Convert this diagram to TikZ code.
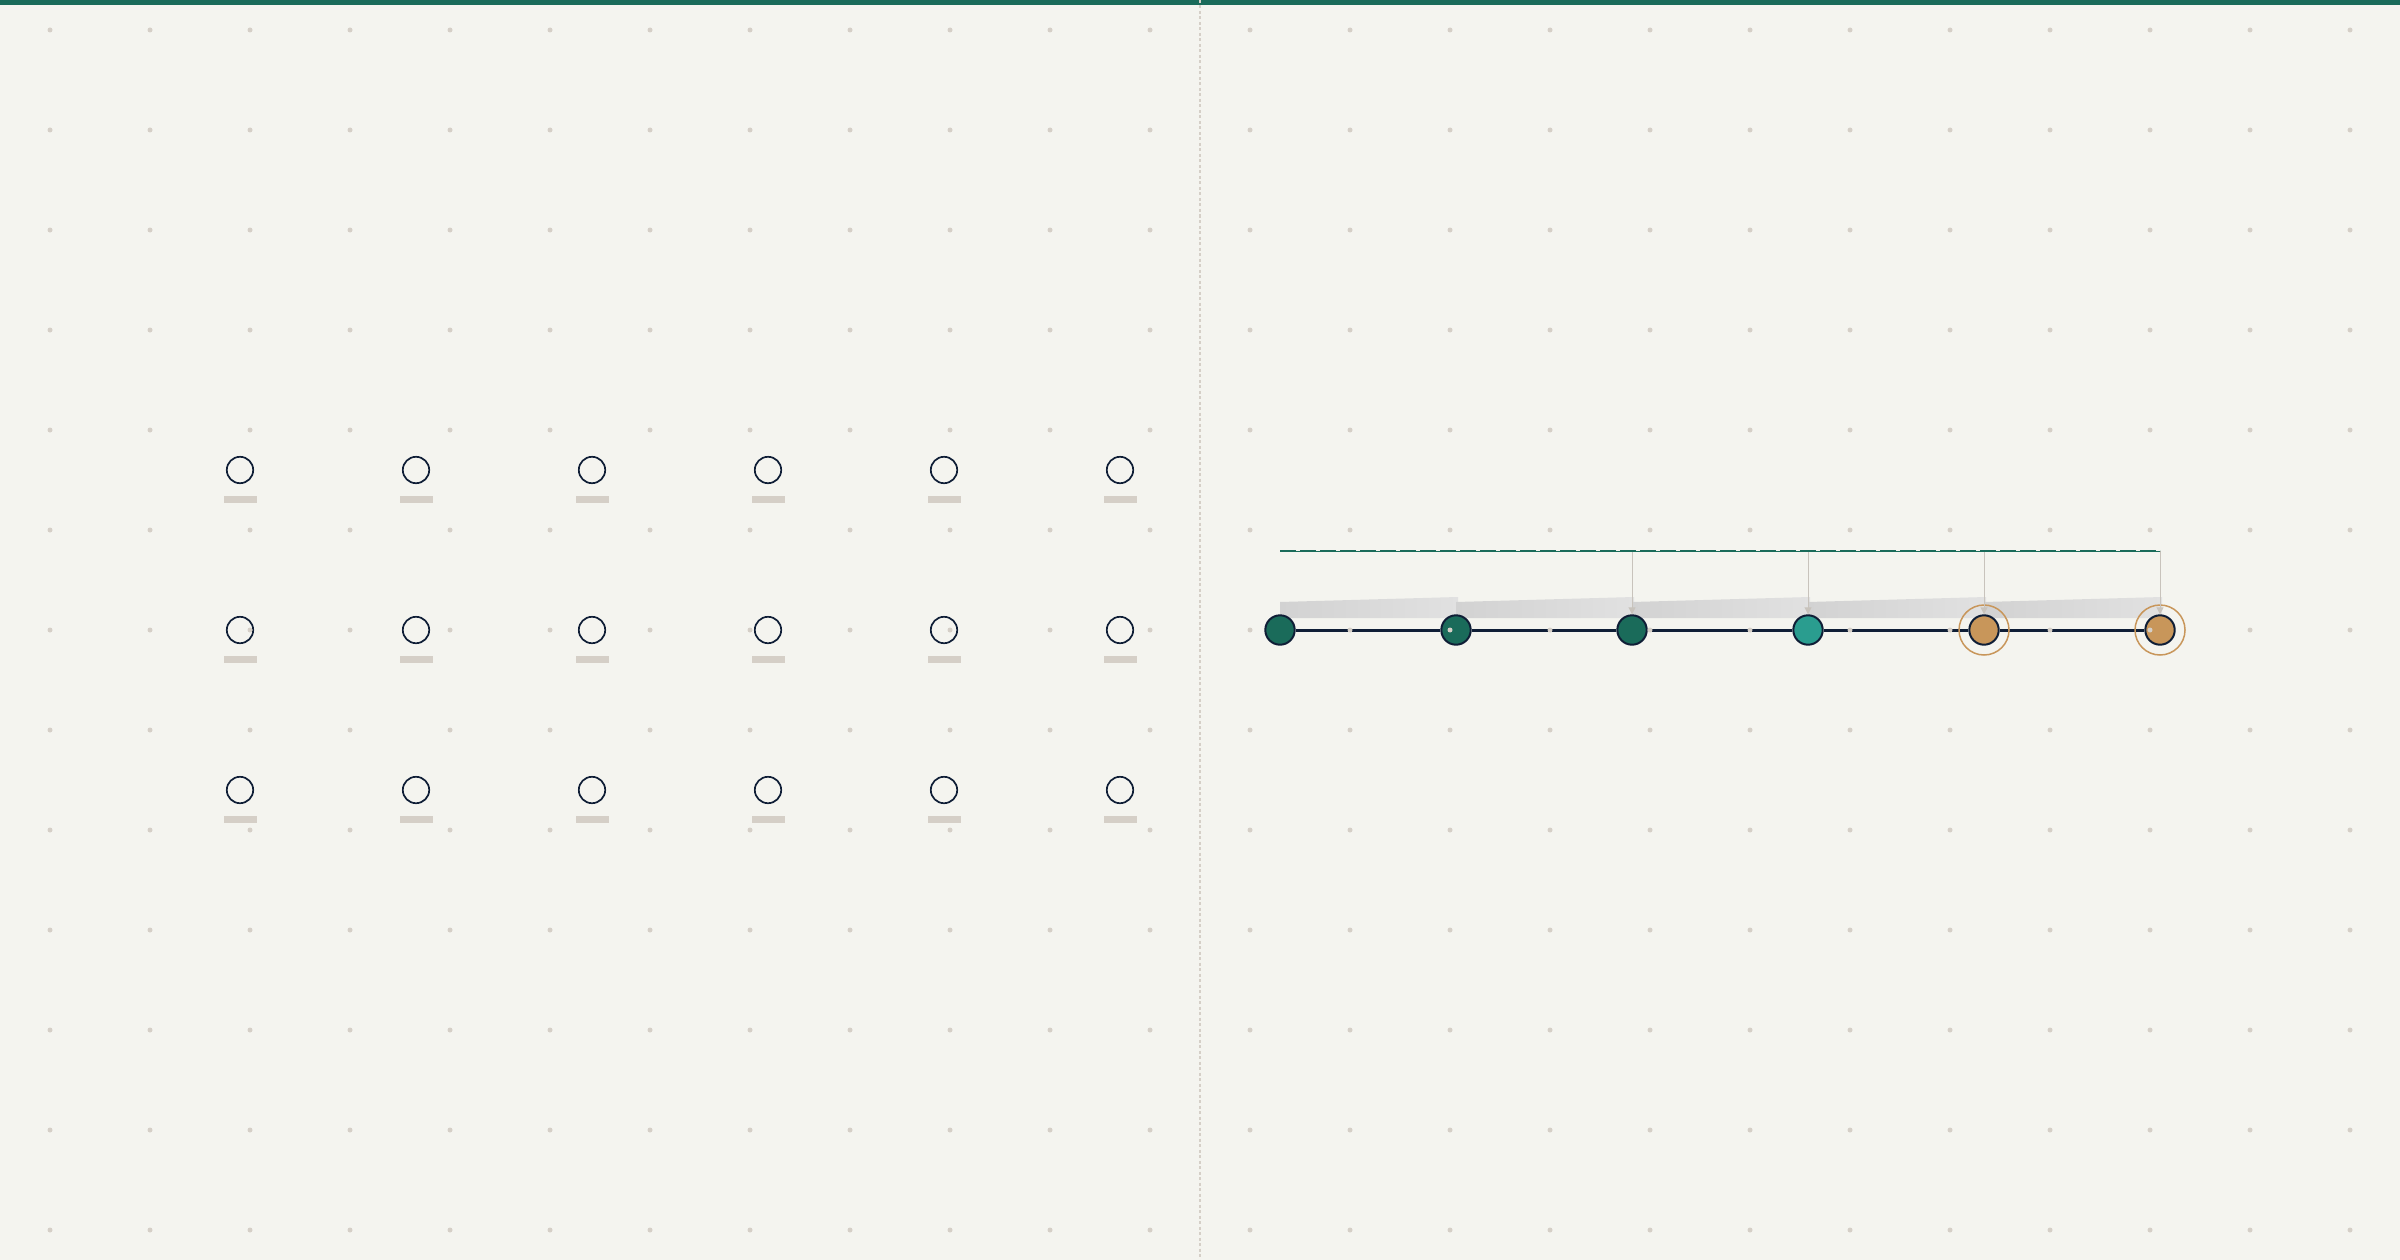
\documentclass[tikz,border=0pt]{standalone}
\usepackage{tikz}
\usetikzlibrary{positioning}
\usetikzlibrary{arrows.meta}
\definecolor{paper}{HTML}{F4F4EF}
\definecolor{pine}{HTML}{1A6B5A}
\definecolor{sea}{HTML}{2A9D8F}
\definecolor{sand}{HTML}{C8965A}
\definecolor{ink}{HTML}{0F1E36}
\definecolor{pebble}{HTML}{D5CFC7}
\definecolor{mist}{HTML}{D2D2D2}
\definecolor{haze}{HTML}{E1E1E1}
\tikzset{
	bead/.style={circle, draw=ink, line width=2pt, minimum size=29.4pt, inner sep=0pt},
	halo/.style={draw=sand, line width=1.5pt},
	feed/.style={draw=pebble!85!gray, line width=1pt, -{Triangle[width=7pt,length=7pt]}},
	slot/.style={draw=ink, line width=1.7pt}
}
\begin{document}
\begin{tikzpicture}[x=1pt, y=-1pt, node distance=176pt, on grid]
\useasboundingbox (0,0) rectangle (2400,1260);
\fill[paper] (0,0) rectangle (2400,1260);
\fill[pine] (0,0) rectangle (2400,5);
\draw[pebble, line width=1.2pt, dash pattern=on 3pt off 2.5pt] (1200,0) -- (1200,1260);
\foreach \i in {0,...,5}
	\foreach \j in {0,1,2} {
		\draw[slot] ({240+176*\i},{470+160*\j}) circle (13.2pt);
		\fill[pebble] ({224+176*\i},{496+160*\j}) rectangle ++(33,7);
	}
\foreach \i in {0,...,4}
	\shade[left color=mist, right color=haze] ({1280+176*\i},618) -- ++(0,-16) -- ++(178,-5) -- ++(0,21) -- cycle;
\node[bead, fill=pine] (n1) at (1280,630) {};
\node[bead, fill=pine, right=of n1] (n2) {};
\node[bead, fill=pine, right=of n2] (n3) {};
\node[bead, fill=sea, right=of n3] (n4) {};
\node[bead, fill=sand, right=of n4] (n5) {};
\node[bead, fill=sand, right=of n5] (n6) {};
\foreach \a/\b in {n1/n2, n2/n3, n3/n4, n4/n5, n5/n6}
	\draw[ink, line width=3pt] (\a) -- (\b);
\draw[halo] (n5) circle (25pt);
\draw[halo] (n6) circle (25pt);
\foreach \i in {1,...,6}
	\coordinate[above=79pt of n\i] (t\i);
\foreach \i in {3,...,6}
	\draw[feed] (t\i) -- (n\i);
\draw[pine, line width=1pt] (t1) -- (t6);
\draw[pine, line width=2pt, dash pattern=on 16pt off 4pt] (t1) -- (t6);
\foreach \x in {50,150,...,2350}
	\foreach \y in {30,130,...,1230}
		\fill[pebble] (\x,\y) circle (2.5pt);
\end{tikzpicture}
\end{document}
